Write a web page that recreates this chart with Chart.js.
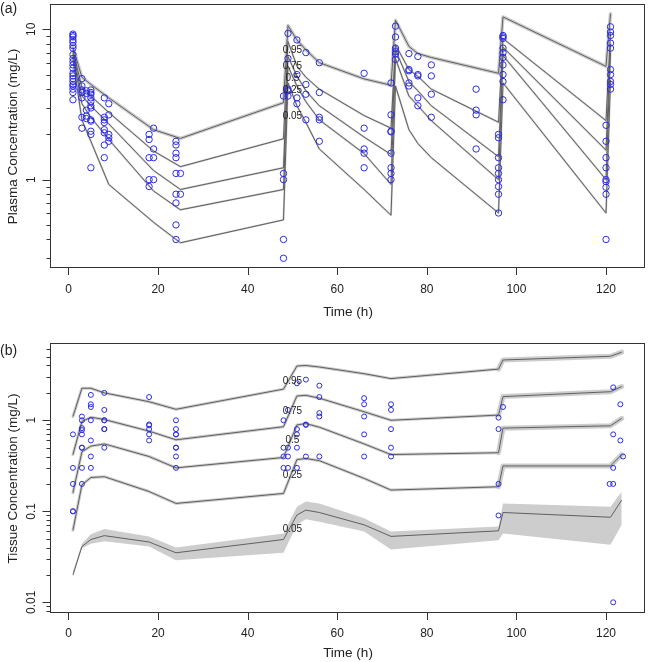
<!DOCTYPE html>
<html>
<head>
<meta charset="utf-8">
<script src="https://cdn.jsdelivr.net/npm/chart.js@4.4.1/dist/chart.umd.min.js"></script>
<style>
body { margin: 0; background: #fff; }
canvas { display: block; }
</style>
</head>
<body>
<canvas id="plasmaChart" width="650" height="330"></canvas>
<canvas id="tissueChart" width="650" height="332"></canvas>
<script>
// Percentile labels
const pctLabels = ['0.95', '0.75', '0.5', '0.25', '0.05'];
const xTicks = [0, 20, 40, 60, 80, 100, 120];

// (a) plasma - percentile lines
const timesA = [1, 3, 5, 9, 19, 25, 48, 49, 51, 53, 56, 66, 72, 73, 76, 78, 81, 96, 97, 120, 121];
const p95A = [7.6, 4.8, 4.3, 3.5, 2.15, 1.88, 3.25, 10.6, 8.5, 7.3, 6.0, 4.68, 4.25, 11.5, 7.7, 6.9, 6.5, 5.1, 12.1, 5.67, 12.7];
const p75A = [7.3, 4.1, 3.6, 2.8, 1.55, 1.22, 1.87, 8.3, 5.7, 4.8, 4.0, 2.67, 2.2, 7.9, 5.4, 4.87, 4.0, 2.41, 8.7, 2.47, 9.5];
const p50A = [7.0, 3.6, 3.1, 2.35, 1.15, 0.86, 1.2, 6.6, 4.9, 3.9, 3.1, 1.92, 1.47, 7.3, 4.5, 3.9, 3.1, 1.42, 7.6, 1.57, 8.0];
const p25A = [6.7, 3.2, 2.6, 1.85, 0.84, 0.63, 0.86, 5.7, 4.2, 3.3, 2.5, 1.49, 0.93, 6.4, 3.6, 3.1, 2.47, 1.0, 6.7, 1.0, 7.0];
const p05A = [6.3, 2.5, 1.8, 0.93, 0.52, 0.38, 0.54, 4.4, 3.1, 2.4, 1.6, 0.86, 0.58, 4.2, 2.15, 1.74, 1.4, 0.6, 4.4, 0.6, 4.6];
const labelValsA = [7.3, 5.7, 4.7, 3.95, 2.63];

// (a) plasma - observations
const plasmaTimes = [1, 3, 4, 5, 8, 9, 18, 19, 24, 25, 48, 49, 51, 53, 56, 66, 72, 73, 76, 78, 81, 91, 96, 97, 120, 121];
const plasmaValues = [
    [9.3, 9.1, 8.9, 8.5, 8.2, 7.8, 7.5, 6.8, 6.4, 6.1, 5.8, 5.5, 5.1, 4.9, 4.7, 4.5, 4.3, 4.2, 4.0, 3.8, 3.4],
    [4.7, 4.2, 3.95, 3.8, 3.5, 2.6, 2.2],
    [3.9, 3.75, 2.9, 2.65, 2.55],
    [3.95, 3.8, 3.7, 3.5, 3.3, 3.1, 3.0, 2.5, 2.45, 2.1, 2.0, 1.2],
    [3.5, 2.6, 2.5, 2.4, 2.15, 2.05, 1.7, 1.4],
    [3.2, 2.7, 2.0, 1.9, 1.8],
    [2.0, 1.85, 1.4, 1.0, 0.9],
    [2.2, 1.6, 1.4, 1.0],
    [1.8, 1.7, 1.5, 1.4, 1.1, 0.8, 0.7, 0.5, 0.4],
    [1.1, 0.8],
    [3.6, 1.1, 1.0, 0.4, 0.3],
    [9.4, 6.4, 4.0, 3.9, 3.6],
    [8.5, 5.0, 3.5, 3.2],
    [7.0, 4.3, 3.7, 2.5],
    [6.0, 3.8, 2.6, 2.5, 1.8],
    [5.1, 2.2, 1.6, 1.5, 1.2],
    [4.4, 2.7, 2.1, 2.08, 1.5, 1.2, 1.1, 1.0],
    [10.5, 8.9, 7.5, 7.1, 6.85, 6.3],
    [6.9, 5.4, 5.3, 4.4, 4.2],
    [6.6, 5.0, 4.9, 3.5, 3.1],
    [5.8, 4.9, 3.7, 2.6],
    [4.0, 2.9, 2.7, 1.6],
    [2.0, 1.9, 1.4, 1.2, 1.1, 1.0, 0.9, 0.8, 0.6],
    [9.1, 8.9, 8.7, 7.5, 7.0, 6.5, 5.8, 5.0, 4.5, 3.4],
    [2.3, 1.8, 1.4, 1.2, 1.0, 0.97, 0.89, 0.8, 0.4],
    [10.4, 9.6, 9.1, 8.1, 7.5, 5.4, 5.0, 4.5, 4.3, 4.0]
];

// (b) tissue - percentile lines
const timesB = [1, 3, 5, 8, 18, 24, 48, 51, 53, 56, 66, 72, 96, 97, 121, 123.5];
const p95B = [1.1, 2.25, 2.25, 2.0, 1.6, 1.32, 2.2, 3.95, 4.0, 3.85, 3.25, 2.87, 3.65, 4.6, 5.05, 5.6];
const p75B = [0.42, 0.97, 1.08, 1.02, 0.76, 0.61, 0.85, 1.85, 1.88, 1.75, 1.24, 1.0, 1.14, 1.82, 2.06, 2.35];
const p50B = [0.16, 0.45, 0.52, 0.55, 0.40, 0.30, 0.39, 0.89, 0.92, 0.84, 0.55, 0.42, 0.44, 0.82, 0.87, 1.05];
const p25B = [0.062, 0.195, 0.235, 0.24, 0.165, 0.122, 0.157, 0.37, 0.38, 0.36, 0.23, 0.171, 0.186, 0.315, 0.315, 0.42];
const p05B = [0.02, 0.041, 0.049, 0.054, 0.046, 0.035, 0.049, 0.091, 0.103, 0.097, 0.071, 0.053, 0.061, 0.097, 0.086, 0.133];
const p05BLow = [0.019, 0.039, 0.044, 0.047, 0.041, 0.029, 0.035, 0.071, 0.082, 0.077, 0.060, 0.038, 0.048, 0.057, 0.043, 0.071];
const p05BHigh = [0.022, 0.044, 0.056, 0.064, 0.053, 0.040, 0.057, 0.112, 0.128, 0.122, 0.084, 0.060, 0.068, 0.122, 0.112, 0.164];
const labelValsB = [2.66, 1.26, 0.61, 0.25, 0.063];

// (b) tissue - observations
const tissueTimes = [1, 3, 5, 8, 18, 24, 48, 49, 51, 53, 56, 66, 72, 96, 97, 120.8, 121.6, 123.2, 123.8];
const tissueValues = [
    [0.7, 0.3, 0.2, 0.1, 0.1],
    [1.1, 1.0, 0.82, 0.78, 0.7, 0.5, 0.5, 0.3, 0.2],
    [1.9, 1.5, 1.4, 1.0, 0.6, 0.4, 0.3],
    [2.0, 1.3, 1.0, 1.0, 0.8, 0.8, 0.5],
    [1.8, 0.9, 0.88, 0.8, 0.7, 0.6],
    [1.0, 0.8, 0.7, 0.7, 0.5, 0.5, 0.4, 0.3],
    [1.0, 0.5, 0.4, 0.3],
    [1.3, 0.5, 0.4, 0.3],
    [2.55, 0.8, 0.7, 0.5, 0.3],
    [2.8, 0.9, 0.89, 0.4],
    [2.4, 1.8, 1.2, 1.1, 0.4],
    [1.75, 1.5, 1.1, 0.7, 0.4],
    [1.5, 1.3, 0.8, 0.5, 0.4],
    [1.07, 0.8, 0.2, 0.09],
    [1.4],
    [0.2],
    [2.3, 0.7, 0.3, 0.2, 0.01],
    [1.5, 0.6],
    [0.4]
];

const FONT = '"Liberation Sans", Arial, sans-serif';
const LINE = '#606060';
const BAND = '#cdcdcd';
const POINT = '#2b2be6';

function toXY(times, vals) {
    return times.map((t, i) => ({ x: t, y: vals[i] }));
}

function obsPoints(times, groups) {
    const pts = [];
    groups.forEach((g, i) => g.forEach(v => pts.push({ x: times[i], y: v })));
    return pts;
}

// Desenha caixa, ticks e textos no estilo do R
function rAxesPlugin(opt) {
    return {
        id: 'rAxes',
        afterDatasetsDraw(chart) {
            const { ctx, scales: { x, y } } = chart;
            ctx.save();
            ctx.fillStyle = '#222';
            ctx.font = '10px ' + FONT;
            ctx.textAlign = 'center';
            ctx.textBaseline = 'middle';
            pctLabels.forEach((txt, i) => {
                ctx.fillText(txt, x.getPixelForValue(50), y.getPixelForValue(opt.labelVals[i]));
            });
            ctx.restore();
        },
        afterDraw(chart) {
            const { ctx, chartArea: a, scales: { x, y } } = chart;
            ctx.save();
            ctx.strokeStyle = '#333';
            ctx.lineWidth = 1;
            ctx.strokeRect(a.left - 0.5, a.top - 0.5, a.right - a.left, a.bottom - a.top);

            ctx.beginPath();
            xTicks.forEach(v => {
                const px = Math.round(x.getPixelForValue(v)) + 0.5;
                ctx.moveTo(px, a.bottom);
                ctx.lineTo(px, a.bottom + 7);
            });
            for (let e = -3; e <= 1; e++) {
                for (let k = 1; k <= 9; k++) {
                    const v = k * Math.pow(10, e);
                    if (v < y.min || v > y.max) continue;
                    const py = Math.round(y.getPixelForValue(v)) + 0.5;
                    ctx.moveTo(a.left - 0.5, py);
                    ctx.lineTo(a.left - 0.5 - (k === 1 ? 8 : 4), py);
                }
            }
            ctx.stroke();

            ctx.fillStyle = '#222';
            ctx.textAlign = 'center';
            ctx.textBaseline = 'middle';
            ctx.font = '12px ' + FONT;
            xTicks.forEach(v => ctx.fillText(String(v), x.getPixelForValue(v), a.bottom + opt.tickGap));
            opt.yTicks.forEach(v => {
                ctx.save();
                ctx.translate(32, y.getPixelForValue(v));
                ctx.rotate(-Math.PI / 2);
                ctx.fillText(String(v), 0, 0);
                ctx.restore();
            });

            ctx.font = '13.5px ' + FONT;
            ctx.fillText('Time (h)', (a.left + a.right) / 2, a.bottom + opt.titleGap);
            ctx.save();
            ctx.translate(13, (a.top + a.bottom) / 2);
            ctx.rotate(-Math.PI / 2);
            ctx.fillText(opt.yTitle, 0, 0);
            ctx.restore();

            ctx.font = '14px ' + FONT;
            ctx.textAlign = 'left';
            ctx.fillText(opt.letter, 0, opt.letterY);
            ctx.restore();
        }
    };
}

function lineSets(times, series, under, wide) {
    const sets = [];
    series.forEach(vals => {
        sets.push({
            type: 'line', data: toXY(times, vals), borderColor: LINE, borderWidth: 1,
            pointRadius: 0, tension: 0, fill: false, borderJoinStyle: 'round', order: 1
        });
        sets.push({
            type: 'line', data: toXY(times, vals), borderColor: BAND, borderWidth: under,
            pointRadius: 0, tension: 0, fill: false, borderJoinStyle: 'round', borderCapStyle: 'round', order: 3,
            segment: { borderWidth: c => (wide && c.p0.parsed.x >= 96 ? wide : under) }
        });
    });
    return sets;
}

function baseOptions(padding, yMin, yMax) {
    return {
        responsive: false,
        animation: false,
        devicePixelRatio: 1,
        events: [],
        layout: { padding },
        plugins: { legend: { display: false }, tooltip: { enabled: false } },
        scales: {
            x: { type: 'linear', min: -3.9, max: 128.7, display: false },
            y: { type: 'logarithmic', min: yMin, max: yMax, display: false }
        }
    };
}

// (a) Plasma
const plasmaSets = [
    {
        type: 'scatter', data: obsPoints(plasmaTimes, plasmaValues), pointStyle: 'circle', pointRadius: 3.2,
        borderColor: POINT, backgroundColor: 'rgba(0,0,0,0)', borderWidth: 1, order: 0
    },
    ...lineSets(timesA, [p95A], 3.5, 0),
    ...lineSets(timesA, [p75A, p50A, p25A, p05A], 2, 0)
];

new Chart(document.getElementById('plasmaChart'), {
    type: 'line',
    data: { datasets: plasmaSets },
    options: baseOptions({ left: 51, right: 1, top: 1, bottom: 62 }, 0.2584, 14.52),
    plugins: [rAxesPlugin({
        yTicks: [1, 10], yTitle: 'Plasma Concentration (mg/L)', letter: '(a)', letterY: 9,
        tickGap: 22, titleGap: 44, labelVals: labelValsA
    })]
});

// (b) Tissue
const tissueSets = [
    {
        type: 'scatter', data: obsPoints(tissueTimes, tissueValues), pointStyle: 'circle', pointRadius: 2.5,
        borderColor: POINT, backgroundColor: 'rgba(0,0,0,0)', borderWidth: 1, order: 0
    },
    ...lineSets(timesB, [p95B, p75B, p50B, p25B], 3, 5),
    {
        type: 'line', data: toXY(timesB, p05B), borderColor: LINE, borderWidth: 1,
        pointRadius: 0, tension: 0, fill: false, order: 1
    },
    {
        type: 'line', data: toXY(timesB, p05BHigh), borderWidth: 0, borderColor: BAND, backgroundColor: BAND,
        pointRadius: 0, tension: 0, fill: '+1', order: 4
    },
    {
        type: 'line', data: toXY(timesB, p05BLow), borderWidth: 0, borderColor: BAND,
        pointRadius: 0, tension: 0, fill: false, order: 4
    }
];

new Chart(document.getElementById('tissueChart'), {
    type: 'line',
    data: { datasets: tissueSets },
    options: baseOptions({ left: 51, right: 1, top: 14, bottom: 49 }, 0.00763, 6.89),
    plugins: [rAxesPlugin({
        yTicks: [0.01, 0.1, 1], yTitle: 'Tissue Concentration (mg/L)', letter: '(b)', letterY: 21,
        tickGap: 21, titleGap: 40, labelVals: labelValsB
    })]
});
</script>
</body>
</html>
